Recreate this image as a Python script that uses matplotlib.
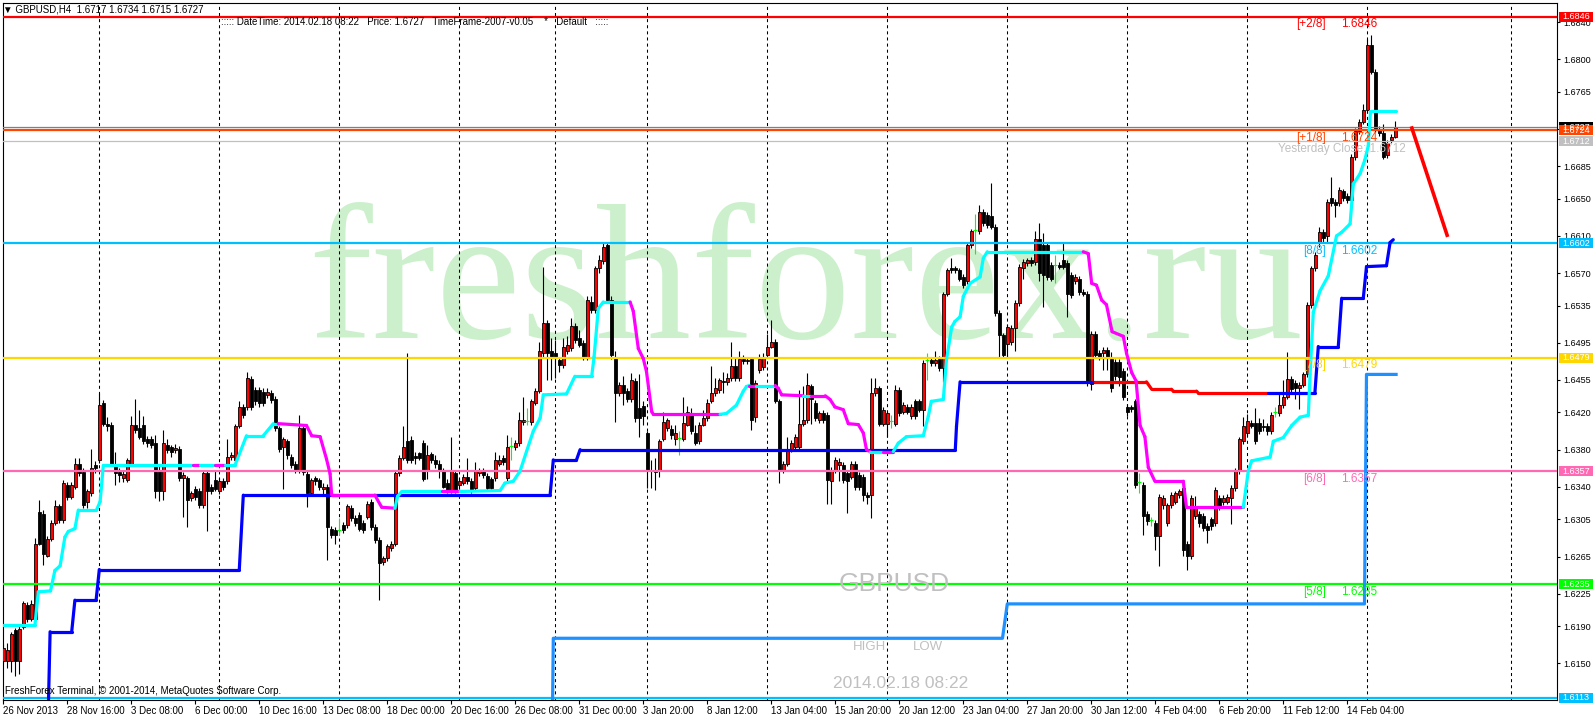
import numpy as np
import matplotlib
matplotlib.use('Agg')
import matplotlib.pyplot as plt
from matplotlib.collections import LineCollection
from matplotlib.patches import Rectangle
from matplotlib.transforms import blended_transform_factory

plt.rcParams['font.family'] = ['Liberation Sans', 'DejaVu Sans']
plt.rcParams['lines.scale_dashes'] = False
plt.rcParams['axes.linewidth'] = 0.8

# ---------------- data (prices in pips, 1e-4) ----------------
opens = [
    16152,16152,16152,16186,16152,16189,16213,16198,16198,16313,
    16311,16266,16284,16301,16319,16304,16342,16329,16340,16365,
    16356,16324,16333,16363,16369,16430,16408,16407,16365,16356,
    16349,16347,16365,16407,16403,16407,16391,16391,16387,16358,
    16335,16385,16383,16380,16381,16349,16349,16328,16338,16336,
    16320,16355,16340,16347,16335,16346,16346,16372,16369,16405,
    16426,16426,16456,16444,16444,16442,16439,16441,16435,16403,
    16383,16389,16372,16365,16358,16403,16354,16333,16349,16347,
    16338,16340,16295,16294,16294,16299,16299,16317,16306,16310,
    16301,16308,16324,16297,16283,16259,16263,16274,16279,16355,
    16371,16389,16390,16373,16376,16387,16358,16375,16369,16365,
    16357,16344,16335,16355,16342,16344,16351,16346,16339,16355,
    16357,16352,16348,16349,16365,16371,16349,16384,16383,16387,
    16410,16411,16410,16430,16443,16484,16516,16486,16484,16477,
    16471,16486,16489,16513,16500,16495,16480,16539,16530,16575,
    16583,16600,16541,16480,16441,16450,16443,16434,16454,16425,
    16427,16398,16358,16358,16357,16391,16403,16402,16392,16393,
    16392,16407,16419,16398,16389,16407,16414,16432,16441,16444,
    16454,16453,16457,16470,16457,16478,16475,16478,16415,16466,
    16469,16482,16491,16496,16432,16358,16365,16381,16383,16383,
    16408,16412,16448,16430,16412,16419,16417,16346,16358,16364,
    16364,16355,16351,16365,16353,16351,16331,16331,16441,16446,
    16408,16408,16411,16408,16444,16421,16426,16416,16432,16432,
    16423,16476,16477,16473,16478,16468,16548,16575,16575,16573,
    16566,16561,16600,16616,16615,16636,16633,16631,16620,16527,
    16503,16494,16496,16511,16538,16575,16581,16584,16582,16607,
    16600,16600,16579,16579,16579,16584,16581,16568,16561,16564,
    16550,16548,16451,16505,16484,16484,16487,16478,16474,16474,
    16465,16426,16426,16432,16345,16342,16311,16304,16301,16287,
    16320,16301,16320,16324,16331,16339,16279,16266,16309,16311,
    16309,16298,16305,16301,16328,16324,16324,16328,16339,16357,
    16389,16398,16409,16409,16409,16406,16406,16400,16421,16419,
    16428,16437,16456,16452,16446,16450,16461,16536,16575,16604,
    16614,16610,16651,16647,16645,16658,16653,16649,16695,16723,
    16733,16746,16816,16787,16725,16721,16697,16713,16717]
closes = [
    16166,16164,16182,16152,16187,16215,16198,16214,16279,16279,
    16268,16284,16301,16319,16304,16344,16329,16342,16365,16355,
    16320,16335,16360,16360,16428,16408,16405,16365,16355,16353,
    16354,16369,16407,16401,16394,16389,16387,16385,16335,16335,
    16387,16380,16378,16382,16349,16353,16326,16333,16329,16320,
    16355,16336,16336,16338,16346,16340,16372,16374,16405,16426,
    16417,16457,16426,16432,16430,16430,16442,16433,16403,16381,
    16391,16374,16363,16358,16403,16356,16333,16347,16346,16340,
    16340,16297,16288,16288,16294,16293,16319,16306,16301,16295,
    16293,16322,16297,16283,16258,16263,16276,16279,16355,16371,
    16383,16369,16369,16371,16371,16348,16374,16369,16365,16357,
    16340,16335,16357,16335,16346,16351,16346,16335,16357,16357,
    16353,16339,16339,16369,16369,16367,16383,16384,16387,16412,
    16412,16411,16432,16443,16486,16516,16484,16480,16480,16471,
    16491,16493,16513,16498,16493,16480,16541,16530,16575,16584,
    16598,16541,16482,16441,16450,16441,16434,16455,16414,16414,
    16416,16358,16357,16356,16389,16410,16412,16396,16398,16393,
    16409,16421,16400,16387,16407,16414,16430,16441,16446,16455,
    16453,16457,16470,16457,16478,16475,16477,16412,16452,16478,
    16480,16491,16496,16432,16358,16365,16381,16387,16394,16408,
    16412,16450,16434,16414,16419,16412,16347,16358,16369,16367,
    16347,16346,16365,16340,16340,16331,16329,16441,16446,16408,
    16423,16419,16411,16444,16419,16428,16421,16426,16416,16423,
    16473,16476,16473,16477,16468,16548,16573,16573,16573,16564,
    16557,16600,16615,16616,16636,16624,16622,16620,16527,16503,
    16482,16512,16511,16538,16577,16582,16584,16581,16607,16570,
    16568,16566,16564,16579,16577,16577,16548,16546,16566,16550,
    16548,16453,16505,16482,16480,16487,16480,16446,16459,16458,
    16437,16420,16424,16342,16345,16309,16303,16304,16287,16329,
    16328,16320,16331,16333,16335,16272,16266,16328,16318,16301,
    16296,16294,16298,16337,16318,16328,16329,16339,16357,16391,
    16406,16411,16406,16389,16400,16404,16400,16417,16421,16428,
    16437,16456,16445,16446,16450,16461,16536,16575,16590,16614,
    16608,16647,16645,16643,16660,16651,16649,16695,16723,16733,
    16746,16816,16787,16725,16721,16695,16710,16717,16727]
highs = [
    16171,16172,16184,16188,16190,16217,16216,16218,16285,16326,
    16315,16287,16304,16326,16322,16347,16345,16345,16371,16371,
    16360,16338,16381,16368,16441,16433,16415,16410,16378,16360,
    16358,16371,16416,16435,16423,16416,16395,16395,16396,16362,
    16401,16392,16385,16386,16384,16356,16352,16336,16341,16339,
    16358,16358,16343,16358,16349,16349,16391,16378,16408,16432,
    16429,16464,16459,16447,16447,16446,16446,16444,16438,16406,
    16394,16392,16375,16368,16417,16406,16357,16350,16352,16350,
    16344,16343,16298,16297,16306,16302,16322,16320,16310,16313,
    16304,16325,16327,16300,16286,16266,16279,16282,16358,16374,
    16405,16484,16395,16377,16378,16390,16385,16378,16374,16369,
    16360,16348,16394,16358,16349,16354,16371,16349,16367,16360,
    16360,16355,16351,16378,16374,16374,16396,16394,16390,16421,
    16437,16425,16435,16446,16496,16577,16520,16500,16498,16480,
    16500,16502,16522,16516,16509,16498,16545,16545,16578,16590,
    16603,16603,16545,16486,16453,16459,16446,16462,16457,16461,
    16432,16400,16369,16371,16391,16421,16414,16407,16407,16400,
    16437,16427,16425,16407,16410,16423,16434,16470,16457,16457,
    16464,16462,16496,16480,16486,16482,16480,16480,16455,16483,
    16484,16505,16520,16499,16434,16368,16394,16390,16397,16444,
    16448,16462,16451,16433,16422,16423,16420,16361,16372,16371,
    16367,16358,16368,16368,16356,16354,16334,16457,16457,16449,
    16426,16422,16417,16450,16447,16431,16429,16429,16435,16435,
    16477,16484,16480,16486,16481,16550,16576,16586,16578,16576,
    16569,16603,16618,16634,16643,16639,16636,16667,16623,16530,
    16506,16515,16514,16541,16580,16585,16586,16587,16615,16624,
    16613,16603,16582,16590,16582,16604,16584,16571,16569,16567,
    16553,16551,16508,16508,16487,16490,16490,16485,16478,16478,
    16468,16429,16428,16435,16355,16345,16314,16308,16304,16332,
    16331,16323,16334,16336,16338,16342,16282,16331,16330,16314,
    16312,16301,16308,16340,16331,16331,16332,16342,16360,16394,
    16415,16418,16412,16425,16414,16413,16409,16420,16426,16440,
    16455,16485,16459,16455,16453,16464,16539,16578,16593,16620,
    16617,16650,16673,16650,16663,16661,16656,16698,16726,16736,
    16752,16822,16826,16790,16728,16731,16713,16720,16734]
lows = [
    16150,16145,16141,16136,16139,16187,16195,16196,16196,16277,
    16256,16264,16282,16299,16301,16301,16326,16327,16338,16352,
    16317,16317,16330,16355,16366,16405,16400,16362,16342,16345,
    16345,16345,16362,16398,16391,16386,16383,16382,16328,16325,
    16326,16376,16372,16376,16346,16308,16297,16325,16326,16317,
    16317,16292,16332,16335,16332,16337,16343,16369,16366,16403,
    16414,16423,16423,16428,16426,16427,16436,16430,16400,16378,
    16338,16370,16360,16355,16355,16353,16318,16330,16342,16337,
    16331,16261,16285,16279,16288,16290,16296,16303,16298,16292,
    16290,16305,16294,16280,16218,16256,16260,16271,16276,16352,
    16369,16366,16366,16365,16369,16346,16348,16366,16360,16349,
    16339,16333,16333,16333,16338,16342,16343,16333,16336,16352,
    16350,16336,16335,16346,16362,16364,16346,16369,16380,16384,
    16407,16407,16407,16428,16441,16480,16455,16455,16457,16464,
    16468,16483,16486,16495,16490,16477,16477,16527,16527,16570,
    16580,16538,16478,16410,16438,16428,16431,16431,16410,16394,
    16407,16339,16339,16337,16351,16389,16400,16392,16385,16374,
    16389,16405,16397,16385,16386,16405,16411,16430,16438,16441,
    16441,16450,16454,16454,16454,16472,16472,16401,16410,16462,
    16466,16480,16489,16430,16344,16355,16362,16378,16380,16380,
    16405,16409,16408,16411,16409,16409,16321,16321,16355,16346,
    16344,16312,16348,16337,16337,16325,16321,16306,16438,16405,
    16405,16394,16403,16405,16416,16418,16418,16413,16413,16420,
    16405,16455,16470,16470,16465,16453,16545,16570,16570,16561,
    16554,16558,16597,16591,16612,16621,16619,16617,16524,16480,
    16479,16480,16493,16486,16535,16564,16578,16578,16579,16561,
    16534,16563,16561,16559,16574,16574,16523,16543,16558,16547,
    16545,16448,16444,16479,16477,16466,16466,16442,16455,16448,
    16433,16416,16421,16339,16333,16288,16299,16298,16272,16255,
    16316,16298,16317,16321,16328,16266,16251,16262,16305,16297,
    16292,16280,16294,16298,16315,16320,16321,16300,16336,16354,
    16386,16395,16403,16386,16397,16400,16396,16397,16415,16416,
    16425,16434,16442,16435,16424,16447,16458,16533,16572,16598,
    16604,16604,16642,16630,16642,16648,16646,16646,16692,16720,
    16730,16743,16784,16722,16718,16693,16694,16710,16715]

# trailing line (cyan when bullish, magenta when bearish)
trail_x = [-0.2, 7.9, 8.75, 11.8, 12.9, 14.2, 15.4, 16.25, 17.9, 18.75,
           23.3, 24.2, 25, 47.5, 49.2, 52.9, 55.4, 57.9, 60.8, 65,
           67.5, 68.75, 75.8, 77.1, 79.2, 80.8, 81.7, 82.1, 92.9, 94.6,
           97.9, 98.6, 99.6, 109.7, 114.2, 124.2, 125.4, 127.5, 129.2, 130.8,
           132.5, 134.2, 135, 140.8, 142.9, 147.1, 147.7, 148.75, 150, 156.7,
           157.5, 158.75, 160, 160.8, 162.1, 162.5, 179.2, 180.8, 183.3, 185,
           185.8, 186.5, 188.3, 193, 193.75, 194.6, 200, 202, 205.5, 206.7,
           207.9, 210, 211.25, 213.75, 215, 215.8, 216.7, 220, 222.5, 223.75,
           225.8, 230, 231.25, 232, 235, 235.8, 237.1, 237.9, 239.2, 240,
           241.7, 244.2, 245, 246, 270, 271.25, 272.1, 273.3, 274.6, 275.8,
           277.2, 280, 280.8, 282.1, 283.2, 284.2, 285.4, 286.25, 287.9, 295,
           295.8, 310, 311.25, 312.1, 316.7, 317.5, 320, 322.1, 324.2, 326.25,
           326.7, 327.5, 329.2, 331.25, 333.3, 334.6, 336.7, 337.5, 339.2, 340.4,
           341.25, 341.8, 348.2]
trail_y = [16191, 16191, 16227, 16228, 16250, 16255, 16286, 16292, 16295, 16315,
           16315, 16324, 16363, 16363, 16363, 16363, 16363, 16363, 16395, 16395,
           16408, 16408, 16406, 16395, 16394, 16370, 16354, 16331, 16331, 16318,
           16317, 16330, 16335, 16335, 16335, 16336, 16344, 16346, 16357, 16378,
           16400, 16414, 16439, 16440, 16459, 16459, 16480, 16532, 16539, 16539,
           16529, 16489, 16478, 16464, 16421, 16418, 16418, 16419, 16428, 16443,
           16448, 16449, 16449, 16449, 16446, 16439, 16438, 16438, 16438, 16434,
           16426, 16423, 16408, 16407, 16398, 16380, 16378, 16378, 16378, 16387,
           16394, 16395, 16416, 16432, 16434, 16477, 16512, 16518, 16523, 16545,
           16559, 16566, 16586, 16593, 16593, 16591, 16559, 16557, 16541, 16536,
           16507, 16502, 16484, 16463, 16454, 16406, 16394, 16361, 16346, 16346,
           16318, 16318, 16357, 16368, 16372, 16389, 16393, 16406, 16415, 16417,
           16461, 16528, 16551, 16567, 16610, 16614, 16623, 16666, 16677, 16692,
           16707, 16744, 16744]
trail_state = ('c' * 13 + 'm' + 'c' + 'm' + 'c' * 5 + 'm' * 9 + 'c' * 3 + 'm' +
               'c' * 15 + 'm' * 7 + 'c' * 5 + 'm' + 'c' + 'm' * 3 + 'c' +
               'm' * 9 + 'c' + 'm' + 'c' * 16 + 'm' * 17 + 'c' * 21)

# support step line (blue, red while broken)
support_x = [11.25, 11.7, 17.1, 17.9, 23.2, 24, 59, 60, 136.7, 137.5,
             143.3, 144.2, 238, 238.3, 239.2, 273, 285.8, 287.1, 292, 292.5,
             298.3, 298.75, 316.25, 327.9, 328.75, 333.75, 334.6, 340, 340.8, 345.8,
             346.7, 347.5]
support_y = [16100, 16184, 16184, 16218, 16218, 16251, 16251, 16331, 16331, 16369,
             16369, 16380, 16380, 16405, 16453, 16453, 16453, 16445, 16445, 16443,
             16443, 16441, 16441, 16441, 16491, 16491, 16543, 16543, 16577, 16578,
             16603, 16606]
support_state = 'b' * 15 + 'r' * 7 + 'b' * 9

# low step line (dodger blue)
lowline_x = [137.3, 137.5, 249.8, 251, 340.3, 340.8, 348.2]
lowline_y = [16100, 16177, 16177, 16214, 16214, 16461, 16461]

# forecast arrow
arrow_x = [352, 361.1]
arrow_y = [16728, 16609]

# Murrey levels
level_prices = [1.6846, 1.6724, 1.6602, 1.6479, 1.6357, 1.6235, 1.6113]
level_tags = ['[+2/8]', '[+1/8]', '[8/8]', '[7/8]', '[6/8]', '[5/8]', None]
level_colors = ['#FF0000', '#FF4500', '#00BFFF', '#FFD700', '#FF69B4', '#00FF00', '#00BFFF']
bid_price = 1.6727
yesterday_close = 1.6712

ytick_values = [1.6840, 1.6800, 1.6765, 1.6725, 1.6685, 1.6650, 1.6610, 1.6570, 1.6535,
                1.6495, 1.6455, 1.6420, 1.6380, 1.6340, 1.6305, 1.6265, 1.6225, 1.6190, 1.6150]
date_labels = ['26 Nov 2013', '28 Nov 16:00', '3 Dec 08:00', '6 Dec 00:00', '10 Dec 16:00',
               '13 Dec 08:00', '18 Dec 00:00', '20 Dec 16:00', '26 Dec 08:00', '31 Dec 00:00',
               '3 Jan 20:00', '8 Jan 12:00', '13 Jan 04:00', '15 Jan 20:00', '20 Jan 12:00',
               '23 Jan 04:00', '27 Jan 20:00', '30 Jan 12:00', '4 Feb 04:00', '6 Feb 20:00',
               '11 Feb 12:00', '14 Feb 04:00']
date_bars = [16 * k for k in range(len(date_labels))]
grid_bars = [24, 54, 84, 114, 138, 161, 191, 221, 251, 281, 311, 341, 377]

assert len(opens) == len(closes) == len(highs) == len(lows)
assert len(trail_x) == len(trail_y) == len(trail_state) + 1
assert len(support_x) == len(support_y) == len(support_state) + 1

# ---------------- figure ----------------
W, H = 1596, 720
fig = plt.figure(figsize=(W / 100, H / 100), dpi=100)
fig.patch.set_facecolor('white')

def fx(px):
    return px / W

def fy(py):
    return 1 - py / H

ax = fig.add_axes([fx(2.7), fy(700), fx(1557) - fx(2.7), fy(3) - fy(700)])
YMIN, YMAX = 1.611056, 1.686075
XMIN, XMAX = -0.15, 388.43
PX = (YMAX - YMIN) / 697.0  # price per pixel

o = np.array(opens) / 1e4
c = np.array(closes) / 1e4
h = np.array(highs) / 1e4
l = np.array(lows) / 1e4
x = np.arange(len(o))

# watermark
ax.text(fx(806), fy(338), 'freshforex.ru', transform=fig.transFigure,
        fontsize=138, family='Liberation Serif', color='#CCF0CC',
        ha='center', va='baseline', zorder=0.5)

# grid
ax.vlines(grid_bars, YMIN, YMAX, colors='black', linewidth=0.75,
          linestyles=[(0, (2.2, 2.2))], zorder=1)

# candles
top = np.maximum(o, c)
bot = np.minimum(o, c)
hh = np.maximum(h, top)
ll = np.minimum(l, bot)
up = c > o
dn = c < o
dj = c == o
ax.vlines(x[~dj], ll[~dj], hh[~dj], colors='black', linewidth=0.8, zorder=3)
ax.vlines(x[dj], ll[dj], hh[dj], colors='#00FF00', linewidth=0.8, zorder=3)
bh = np.maximum(top - bot, PX)
ax.bar(x[up], bh[up], bottom=bot[up], width=0.75, color='#FF0000',
       edgecolor='black', linewidth=0.6, zorder=3.2)
ax.bar(x[dn], bh[dn], bottom=bot[dn], width=0.75, color='black',
       edgecolor='black', linewidth=0.6, zorder=3.2)
ax.hlines(c[dj], x[dj] - 0.45, x[dj] + 0.45, colors='#00FF00', linewidth=0.8, zorder=3.2)

# horizontal levels
for p, col in zip(level_prices, level_colors):
    ax.axhline(p, color=col, linewidth=1.6, zorder=4)
ax.axhline(bid_price, color='#808080', linewidth=0.9, zorder=4)
ax.axhline(yesterday_close, color='#C0C0C0', linewidth=0.9, zorder=4)

# step lines
def seg_lines(xs, ys, states, cmap, lw, z):
    pts = np.column_stack([xs, np.array(ys) / 1e4])
    segs = [pts[i:i + 2] for i in range(len(pts) - 1)]
    cols = [cmap[s] for s in states]
    lc = LineCollection(segs, colors=cols, linewidths=lw, capstyle='round', zorder=z)
    ax.add_collection(lc)

seg_lines(support_x, support_y, support_state, {'b': '#0000FF', 'r': '#FF0000'}, 2.3, 5)
ax.plot(lowline_x, np.array(lowline_y) / 1e4, color='#1E90FF', linewidth=2.3,
        solid_joinstyle='round', zorder=5)
seg_lines(trail_x, trail_y, trail_state, {'c': '#00FFFF', 'm': '#FF00FF'}, 2.3, 5.2)
ax.plot(arrow_x, np.array(arrow_y) / 1e4, color='#FF0000', linewidth=2.6,
        solid_capstyle='butt', zorder=6)

# level labels
lab_off = 7.5 * PX
for p, tag, col in zip(level_prices, level_tags, level_colors):
    if tag is None:
        continue
    ax.text(330.7, p - lab_off, tag, ha='right', va='center', color=col,
            fontsize=8.5, zorder=7)
    ax.text(334.4, p - lab_off, f'{p:.4f}', ha='left', va='center', color=col,
            fontsize=8.5, zorder=7)
ax.text(318.7, yesterday_close - lab_off, f'Yesterday Close: {yesterday_close:.4f}',
        ha='left', va='center', color='#C0C0C0', fontsize=8.5, zorder=7)

ax.set_xlim(XMIN, XMAX)
ax.set_ylim(YMIN, YMAX)

# axes styling
for sp in ax.spines.values():
    sp.set_color('black')
    sp.set_linewidth(0.8)
ax.yaxis.tick_right()
ax.set_yticks(ytick_values)
ax.set_yticklabels([f'{v:.4f}' for v in ytick_values])
ax.tick_params(axis='y', length=2.5, width=0.8, pad=2.2, labelsize=6.5, colors='black')
ax.set_xticks(date_bars)
ax.set_xticklabels(date_labels)
ax.tick_params(axis='x', length=3, width=0.8, pad=1.5, labelsize=7, colors='black')
for lbl in ax.get_xticklabels():
    lbl.set_ha('left')

# right-side price boxes
bt = blended_transform_factory(fig.transFigure, ax.transData)
box_prices = [1.6846, bid_price, 1.6724, yesterday_close, 1.6602, 1.6479, 1.6357, 1.6235, 1.6113]
box_colors = ['#FF0000', '#000000', '#FF4500', '#C0C0C0', '#00BFFF', '#FFD700', '#FF69B4', '#00FF00', '#00BFFF']
bh_box = 10 * PX
for p, col in zip(box_prices, box_colors):
    fig.add_artist(Rectangle((fx(1559), p - bh_box / 2), fx(1593) - fx(1559), bh_box,
                             transform=bt, facecolor=col, edgecolor='none', zorder=10))
    fig.text(fx(1562.5), p, f'{p:.4f}', transform=bt, color='white', fontsize=6.5,
             ha='left', va='center', zorder=11)

# texts
fig.text(fx(3), fy(9), '\u25bc GBPUSD,H4  1.6717 1.6734 1.6715 1.6727', fontsize=7,
         ha='left', va='center', color='black')
fig.text(fx(221), fy(22), '::::: DateTime: 2014.02.18 08:22   Price: 1.6727   '
         'TimeFrame-2007-v0.05    *   Default   :::::', fontsize=7,
         ha='left', va='center', color='black')
fig.text(fx(894), fy(584), 'GBPUSD', fontsize=19, color='#C0C0C0', ha='center', va='center')
fig.text(fx(853), fy(647), 'HIGH', fontsize=9.5, color='#C0C0C0', ha='left', va='center')
fig.text(fx(913), fy(647), 'LOW', fontsize=9.5, color='#C0C0C0', ha='left', va='center')
fig.text(fx(833), fy(684), '2014.02.18 08:22', fontsize=12.5, color='#C0C0C0',
         ha='left', va='center')
fig.text(fx(5), fy(691), 'FreshForex Terminal, \u00a9 2001-2014, MetaQuotes Software Corp.',
         fontsize=7, ha='left', va='center', color='black')

fig.savefig('out.png', dpi=100, facecolor='white')
